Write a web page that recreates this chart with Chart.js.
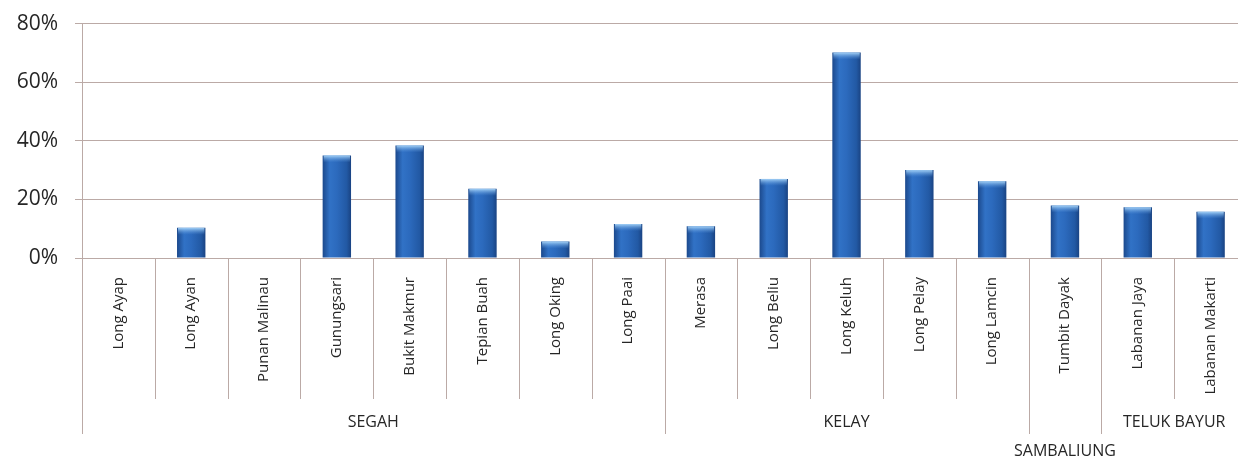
<!DOCTYPE html>
<html>
<head>
<meta charset="utf-8">
<script src="https://cdn.jsdelivr.net/npm/chart.js@4.4.0/dist/chart.umd.min.js"></script>
<style>
  html,body{margin:0;padding:0;background:#fff;overflow:hidden}
  /* layout keeps ~29px above the plot whatever the padding, so lift the canvas a bit */
  #wrap{position:relative;top:-6px;width:1250px;height:464px}
</style>
</head>
<body>
<div id="wrap"><canvas id="c"></canvas></div>
<script>
// villages (categories) and their values in %
const villages = ['Long Ayap','Long Ayan','Punan Malinau','Gunungsari','Bukit Makmur','Tepian Buah','Long Oking','Long Paai',
                  'Merasa','Long Beliu','Long Keluh','Long Pelay','Long Lamcin','Tumbit Dayak','Labanan Jaya','Labanan Makarti'];
const values = [0, 10.3, 0, 35, 38.4, 23.6, 5.6, 11.6, 10.8, 27, 70.1, 30, 26.2, 17.9, 17.3, 15.8];
// districts (outer category level)
const groupNames = ['SEGAH','KELAY','SAMBALIUNG','TELUK BAYUR'];
const groupSizes = [8, 5, 1, 2];
const yTicks = [0, 20, 40, 60, 80];

const LINE = '#bbaaa6';
const INK = '#262626';

function barFill(ctx){
  const ch = ctx.chart, xs = ch.scales.x;
  if(!ch.chartArea || !xs || ctx.type!=='data') return '#2563b0';
  const x = xs.getPixelForValue(ctx.dataIndex);
  const w = 14;
  const g = ch.ctx.createLinearGradient(x-w, 0, x+w, 0);
  g.addColorStop(0, '#1c4a8e');
  g.addColorStop(0.25, '#3172c6');
  g.addColorStop(0.5, '#2c6abd');
  g.addColorStop(0.85, '#2259a4');
  g.addColorStop(1, '#1a4484');
  return g;
}

// light cap on each bar top + category dividers + district labels
const decor = {
  id:'decor',
  afterDatasetsDraw(chart){
    const c = chart.ctx;
    chart.getDatasetMeta(0).data.forEach((bar,i)=>{
      if(!values[i]) return;
      const half = bar.width/2;
      const g = c.createLinearGradient(0, bar.y, 0, bar.y+7);
      g.addColorStop(0, 'rgba(170,215,250,0.95)');
      g.addColorStop(1, 'rgba(90,150,220,0)');
      c.save();
      c.fillStyle = g;
      c.fillRect(bar.x-half+1, bar.y, bar.width-2, 7);
      c.restore();
    });
  },
  afterDraw(chart){
    const c = chart.ctx, xs = chart.scales.x, area = chart.chartArea;
    const step = xs.getPixelForValue(1) - xs.getPixelForValue(0);
    const edge = i => xs.getPixelForValue(i) - step/2;
    const starts = [0];
    groupSizes.forEach((n,k)=>starts.push(starts[k]+n));
    c.save();
    c.strokeStyle = LINE; c.lineWidth = 1;
    for(let i=0;i<=villages.length;i++){
      const x = Math.round(edge(i))+0.5;
      const long = starts.includes(i) && i<villages.length;
      c.beginPath(); c.moveTo(x, area.bottom); c.lineTo(x, area.bottom + (long?176:141)); c.stroke();
    }
    c.fillStyle = INK;
    c.font = '16px "Open Sans", sans-serif';
    c.textAlign = 'center'; c.textBaseline = 'middle';
    groupNames.forEach((name,k)=>{
      const cx = (edge(starts[k]) + edge(starts[k+1]))/2;
      const y = area.bottom + (groupSizes[k]===1 ? 193 : 164);
      c.fillText(name, cx, y);
    });
    c.restore();
  }
};

new Chart(document.getElementById('c'), {
  type:'bar',
  data:{labels:villages, datasets:[{data:values, backgroundColor:barFill, barPercentage:0.39, categoryPercentage:1}]},
  options:{
    responsive:true, maintainAspectRatio:false, animation:false,
    layout:{autoPadding:false, padding:{top:18, right:3, left:0, bottom:0}},
    plugins:{legend:{display:false}, tooltip:{enabled:false}},
    scales:{
      y:{min:0, max:80, afterBuildTicks(s){ s.ticks = yTicks.map(v=>({value:v})); },
        afterFit(s){ s.width = 82; },
        border:{color:LINE},
        grid:{color:LINE, drawTicks:true, tickLength:7, tickColor:LINE},
        ticks:{color:INK, padding:17, font:{family:'"Open Sans", sans-serif', size:21}, callback:v=>v+'%'}},
      x:{afterFit(s){ s.height = 200; },
        border:{color:LINE},
        grid:{display:false},
        ticks:{color:INK, minRotation:90, maxRotation:90, autoSkip:false, padding:11,
               font:{family:'"Open Sans", sans-serif', size:15}}}
    }
  },
  plugins:[decor]
});
</script>
</body>
</html>
